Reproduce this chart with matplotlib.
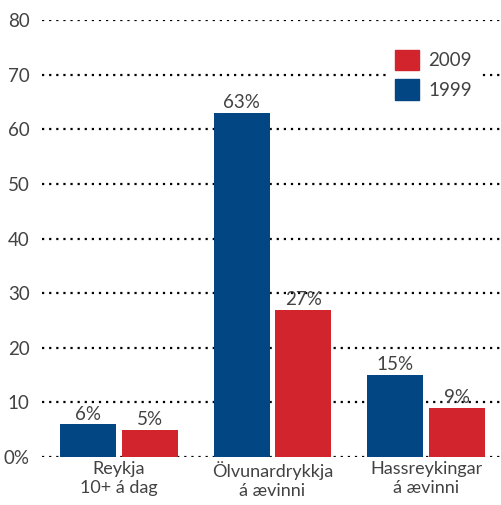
import matplotlib
matplotlib.use('Agg')
import matplotlib.pyplot as plt
import matplotlib.patches as mpatches
import numpy as np

# Data
categories = ['Reykja\n10+ á dag', 'Ölvunardrykkja\ná ævinni', 'Hassreykingar\ná ævinni']
values_1999 = [6, 63, 15]
values_2009 = [5, 27, 9]
yticks = [0, 10, 20, 30, 40, 50, 60, 70, 80]
ytick_labels = ['0%', '10', '20', '30', '40', '50', '60', '70', '80']

blue = '#024683'
red = '#D2242C'
txt = '#424242'

plt.rcParams['font.family'] = ['Lato', 'DejaVu Sans']

fig = plt.figure(figsize=(5.02, 5.05), dpi=100)
ax = fig.add_axes([42 / 502, 1 - 457 / 505, 458 / 502, 437 / 505])

x = np.arange(len(categories))
w = 0.364
off = 0.201

# dotted gridlines (drawn under the bars)
for y in yticks:
    ax.axhline(y, color='black', linestyle=(0, (1, 2.2)), linewidth=1.6, zorder=1)

b1 = ax.bar(x - off, values_1999, w, color=blue, zorder=2)
b2 = ax.bar(x + off, values_2009, w, color=red, zorder=2)

for rect, v in list(zip(b1, values_1999)) + list(zip(b2, values_2009)):
    ax.text(rect.get_x() + rect.get_width() / 2, v + 0.3, f'{v}%',
            ha='center', va='bottom', fontsize=13.5, color=txt, zorder=3)

ax.set_xlim(-0.5, 2.48)
ax.set_ylim(0, 80)
ax.set_yticks(yticks)
ax.set_yticklabels(ytick_labels, fontsize=13.5, color=txt)
ax.set_xticks(x)
ax.set_xticklabels(categories, fontsize=13, color=txt, linespacing=1.2)
ax.tick_params(axis='both', length=0)
ax.tick_params(axis='y', pad=9)
ax.tick_params(axis='x', pad=3)
for s in ax.spines.values():
    s.set_visible(False)
ax.patch.set_alpha(0)

handles = [mpatches.Patch(color=red, label='2009'), mpatches.Patch(color=blue, label='1999')]
leg = ax.legend(handles=handles, loc='upper left', bbox_to_anchor=(345 / 458, 1 - 22 / 437),
                frameon=True, fontsize=13.5, handlelength=1.3, handleheight=1.3,
                handletextpad=0.5, labelspacing=0.5, borderpad=0.4, borderaxespad=0)
leg.get_frame().set_facecolor('white')
leg.get_frame().set_edgecolor('none')
leg.get_frame().set_alpha(1)
for t in leg.get_texts():
    t.set_color(txt)

plt.savefig('out.png', dpi=100)
